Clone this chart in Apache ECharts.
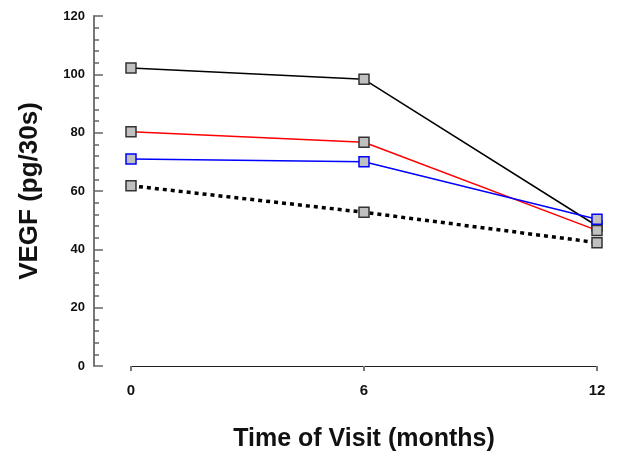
<!DOCTYPE html>
<html><head><meta charset="utf-8">
<script src="https://cdn.jsdelivr.net/npm/echarts@6/dist/echarts.min.js"></script>
<style>html,body{margin:0;padding:0;background:#fff}#c{width:622px;height:457px}</style>
</head><body><div id="c"></div>
<script>
const months = [0, 6, 12];
const blackSeries = [102.2, 98.3, 48.0];
const redSeries = [80.3, 76.7, 46.5];
const blueSeries = [71.0, 70.0, 50.3];
const dottedSeries = [61.8, 52.7, 42.3];
const xTicks = [0, 6, 12];
const yTicks = [0, 20, 40, 60, 80, 100, 120];

const chart = echarts.init(document.getElementById('c'), null, {renderer: 'canvas'});
const font = 'Liberation Sans, Arial, sans-serif';
function pts(v){ return months.map((m,i)=>[m, v[i]]); }
function mk(name, data, color, border, dotted){
  return {
    name, type: 'line', xAxisIndex: 0, yAxisIndex: 0, data: pts(data),
    symbol: 'rect', symbolSize: 10,
    lineStyle: {color, width: dotted ? 3.5 : 1.5, type: dotted ? [4, 4] : 'solid'},
    itemStyle: {color: '#c0c0c0', borderColor: border, borderWidth: 1.5},
    emphasis: {disabled: true}, animation: false, z: dotted ? 1 : 2
  };
}
chart.setOption({
  animation: false,
  grid: [
    {left: 131, right: 25, top: 16, bottom: 91},
    {left: 94, width: 1, top: 16, bottom: 91}
  ],
  xAxis: [
    {type: 'value', gridIndex: 0, min: 0, max: 12, interval: 6,
     axisLine: {show: true, lineStyle: {color: '#222', width: 1.2}},
     axisTick: {show: true, length: 5, lineStyle: {color: '#777', width: 2}},
     axisLabel: {margin: 17, fontFamily: font, fontWeight: 'bold', fontSize: 15, color: '#111',
       formatter: v => xTicks.includes(v) ? String(v) : ''},
     splitLine: {show: false},
     name: 'Time of Visit (months)', nameLocation: 'middle', nameGap: 61,
     nameTextStyle: {fontFamily: font, fontWeight: 'bold', fontSize: 25, color: '#111'}},
    {type: 'value', gridIndex: 1, min: 0, max: 1, show: false}
  ],
  yAxis: [
    {type: 'value', gridIndex: 0, min: 0, max: 120, show: false},
    {type: 'value', gridIndex: 1, min: 0, max: 120, interval: 20,
     axisLine: {show: true, lineStyle: {color: '#777', width: 2}},
     axisTick: {show: true, inside: true, length: 9, lineStyle: {color: '#666', width: 1.5}},
     minorTick: {show: true, splitNumber: 5, length: 5, lineStyle: {color: '#666', width: 1.5}},
     axisLabel: {margin: 9, fontFamily: font, fontWeight: 'bold', fontSize: 13, color: '#111',
       formatter: v => yTicks.includes(v) ? String(v) : ''},
     splitLine: {show: false},
     name: 'VEGF (pg/30s)', nameLocation: 'middle', nameGap: 51, nameRotate: 90,
     nameTextStyle: {fontFamily: font, fontWeight: 'bold', fontSize: 26, color: '#111'}}
  ],
  series: [
    mk('dotted', dottedSeries, '#000', '#333', true),
    mk('black', blackSeries, '#000', '#333', false),
    mk('red', redSeries, '#ff0000', '#333', false),
    mk('blue', blueSeries, '#0000ff', '#0000ff', false)
  ]
});
</script></body></html>
